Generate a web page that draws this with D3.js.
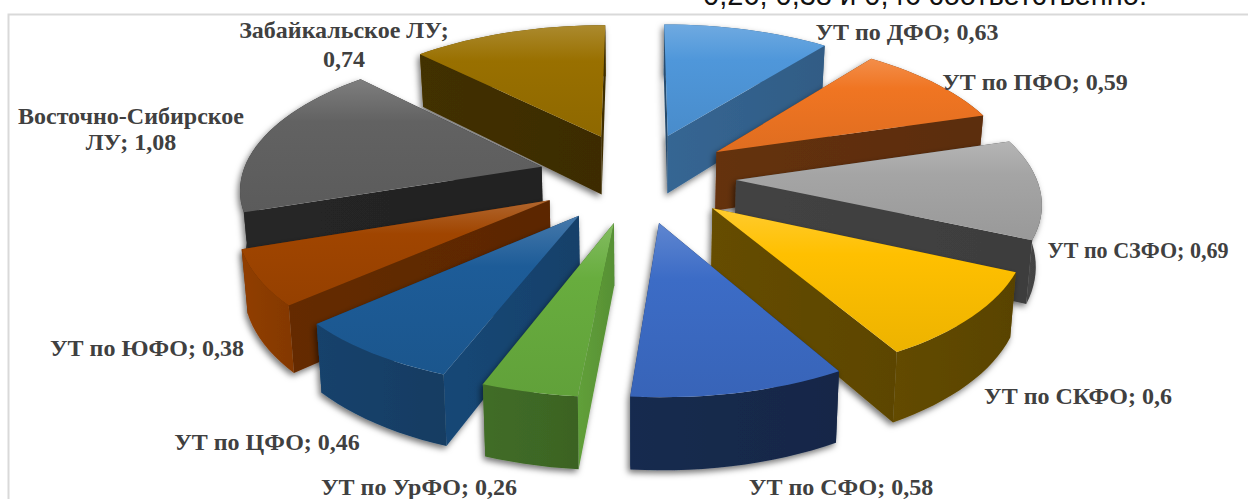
<!DOCTYPE html>
<html lang="ru">
<head>
<meta charset="utf-8">
<title>Удельный вес</title>
<script src="https://cdn.jsdelivr.net/npm/d3@7/dist/d3.min.js"></script>
<style>
html,body{margin:0;padding:0;background:#fff;overflow:hidden}
svg{display:block}
.lbl{font-family:"Liberation Serif",serif;font-weight:700;font-size:24px;fill:#404040;text-anchor:middle}
.intro{font-family:"Liberation Sans",sans-serif;font-size:29px;fill:#111}
</style>
</head>
<body>
<script>
// Values per territorial unit, clockwise from twelve o'clock
const names = ["УТ по ДФО","УТ по ПФО","УТ по СЗФО","УТ по СКФО","УТ по СФО","УТ по УрФО","УТ по ЦФО","УТ по ЮФО","Восточно-Сибирское ЛУ","Забайкальское ЛУ"];
const values = [0.63,0.59,0.69,0.6,0.58,0.26,0.46,0.38,1.08,0.74];
const colors = ["#4F97DA","#F07522","#A5A5A5","#FFC000","#3C6CC6","#68AD3E","#1D5C98","#A04500","#626262","#997000"];

// Brightness of the start wall, end wall and rim of every slice
const startShade = [.5,.42,.39,.4,.42,.88,.74,.6,.37,.41];
const endShade   = [.64,.4,.39,.38,.42,.55,.6,.57,.38,.41];
const rimShade   = [.6,.45,.42,.37,.38,.6,.68,.86,.45,.6];

// Label layout: centre x, baseline and optional fitted width of each text line
const labelLines = [
  [["УТ по ДФО; 0,63",907,40]],
  [["УТ по ПФО; 0,59",1035,90]],
  [["УТ по СЗФО; 0,69",1138,258,181]],
  [["УТ по СКФО; 0,6",1078,404]],
  [["УТ по СФО; 0,58",841,495]],
  [["УТ по УрФО; 0,26",419,495]],
  [["УТ по ЦФО; 0,46",267,450]],
  [["УТ по ЮФО; 0,38",147,356]],
  [["Восточно-Сибирское",131,124],["ЛУ; 1,08",131,150]],
  [["Забайкальское ЛУ;",344,38],["0,74",344,67]]
];

const W = 1248, H = 499;
const cx = 637, cy = 177, R = 300, tilt = 0.456, persp = 0.135;
const explode = 0.33, wallH = 60, floorShrink = 0.985;

const svg = d3.select("body").append("svg").attr("width",W).attr("height",H);
const defs = svg.append("defs");

// Clipped line of the paragraph that runs above the chart frame
svg.append("text").attr("class","intro").attr("x",703).attr("y",5).text("0,26; 0,38 и 0,46 соответственно.");

svg.append("rect").attr("x",8.5).attr("y",14.5).attr("width",W+20).attr("height",H+20)
  .attr("fill","#fff").attr("stroke","#d9d9d9").attr("stroke-width",2);

const shadow = defs.append("filter").attr("id","wallShadow")
  .attr("x","-10%").attr("y","-10%").attr("width","120%").attr("height","125%");
shadow.append("feDropShadow").attr("dx",-2).attr("dy",3).attr("stdDeviation",3)
  .attr("flood-color","#000").attr("flood-opacity",.55);

// Perspective projection of a point on the pie plane (y points away from the viewer)
function project(x, y, floor) {
  const w = 1 + persp * y;
  const k = floor ? floorShrink : 1;
  return [cx + k * R * x / w, cy - R * tilt * y / w + (floor ? wallH / w : 0)];
}

const arcs = d3.pie().sort(null).value(d => d)(values);

function shade(hex, f) {
  const c = d3.rgb(hex);
  return d3.rgb(c.r * f, c.g * f, c.b * f).formatHex();
}
function lighten(hex, t) {
  return d3.interpolateRgb(hex, "#fff")(t);
}

const slices = arcs.map((a, i) => {
  const mid = (a.startAngle + a.endAngle) / 2;
  const ox = explode * Math.sin(mid), oy = explode * Math.cos(mid);
  const steps = Math.max(6, Math.ceil((a.endAngle - a.startAngle) * 24));
  const rim = d3.range(steps + 1).map(s => {
    const t = a.startAngle + (a.endAngle - a.startAngle) * s / steps;
    return [ox + Math.sin(t), oy + Math.cos(t)];
  });
  return { i, apex: [ox, oy], rim, depth: oy };
});

const line = d3.line();
let gid = 0;
function gradient(stops, vertical) {
  const id = "g" + (gid++);
  const g = defs.append("linearGradient").attr("id", id)
    .attr("x1",0).attr("y1",0).attr("x2",vertical ? 0 : 1).attr("y2",vertical ? 1 : 0);
  stops.forEach(([o, c]) => g.append("stop").attr("offset", o).attr("stop-color", c));
  return `url(#${id})`;
}

// Paint from the far slices to the near ones
slices.sort((p, q) => q.depth - p.depth).forEach(s => {
  const base = colors[s.i];
  const g = svg.append("g");
  const walls = g.append("g").attr("filter","url(#wallShadow)");
  const top = p => project(p[0], p[1], false);
  const bot = p => project(p[0], p[1], true);
  const last = s.rim[s.rim.length - 1];

  const faces = [
    { pts: [s.apex, s.rim[0]], f: startShade[s.i] },
    { pts: [s.apex, last], f: endShade[s.i] },
    { pts: s.rim, f: rimShade[s.i] }
  ].map(o => {
    const poly = o.pts.map(top).concat(o.pts.map(bot).reverse());
    return { poly, f: o.f, y: d3.mean(poly, d => d[1]) };
  }).sort((a, b) => a.y - b.y);

  faces.forEach(o => {
    const c = shade(base, o.f);
    walls.append("path").attr("d", line(o.poly) + "Z")
      .attr("fill", gradient([[0, shade(c, 1.05)], [1, shade(c, .95)]], false));
  });

  const outline = [s.apex].concat(s.rim).map(top);
  g.append("path").attr("d", line(outline) + "Z")
    .attr("fill", gradient([[0, lighten(base, .18)], [.32, base], [1, shade(base, .93)]], true));
});

// Data labels sit above every slice
labelLines.forEach(lines => lines.forEach(([t, x, y, fit]) => {
  const label = svg.append("text").attr("class","lbl").attr("x",x).attr("y",y).text(t);
  if (fit) label.attr("textLength",fit).attr("lengthAdjust","spacingAndGlyphs");
}));
</script>
</body>
</html>
